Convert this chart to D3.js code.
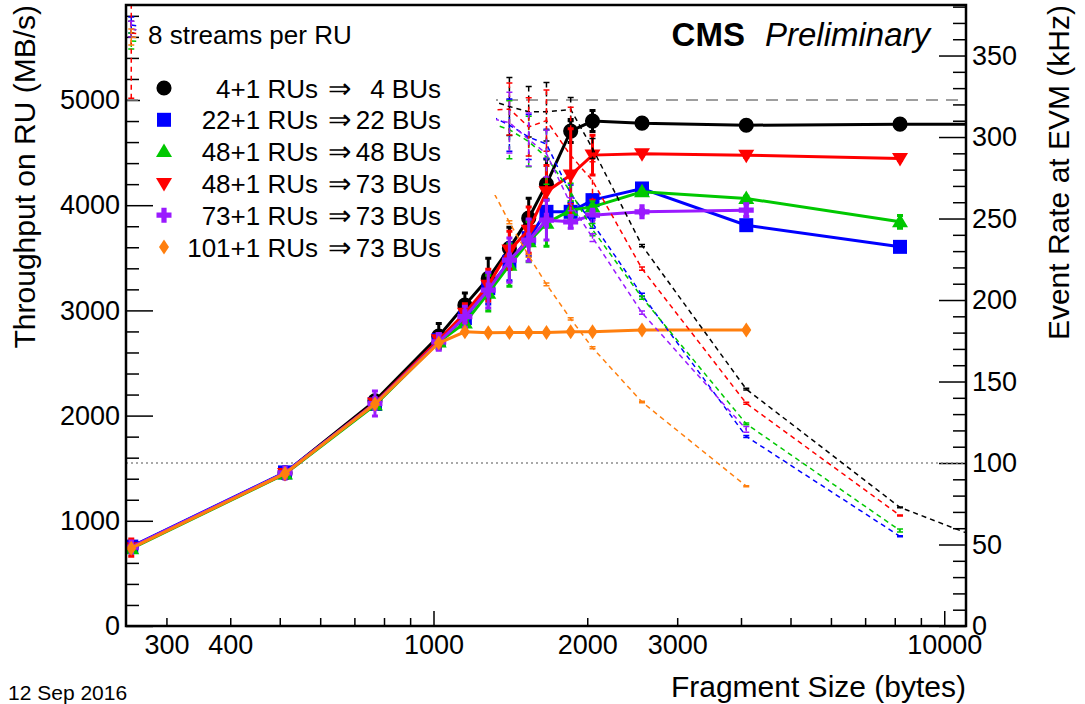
<!DOCTYPE html>
<html>
<head>
<meta charset="utf-8">
<script src="https://cdn.jsdelivr.net/npm/d3@7"></script>
<style>
  body { margin: 0; background: #fff; }
  text { font-family: "Liberation Sans", Arial, Helvetica, sans-serif; fill: #000; }
</style>
</head>
<body>
<svg id="chart" width="1085" height="704"></svg>
<script>
// Fragment sizes (bytes), shared by every series (shorter series use the first N)
const sizes = [256, 512, 768, 1024, 1152, 1280, 1408, 1536, 1664, 1856, 2048, 2560, 4096, 8192, 16384];

// Throughput on RU (MB/s) and its error
const blackThroughput    = [750, 1455, 2140, 2755, 3050, 3305, 3590, 3877, 4200, 4705, 4800, 4780, 4760, 4770, 4770];
const blackThroughputErr = [10, 10, 10, 120, 115, 190, 200, 190, 240, 110, 100, 15, 15, 15, 15];
const blueThroughput     = [755, 1460, 2110, 2718, 2927, 3212, 3462, 3687, 3937, 3937, 4048, 4159, 3810, 3604];
const blueThroughputErr  = [10, 10, 10, 60, 90, 150, 180, 170, 120, 80, 50, 20, 20, 20];
const greenThroughput    = [735, 1445, 2100, 2700, 2880, 3164, 3430, 3652, 3829, 3953, 3984, 4127, 4064, 3842];
const greenThroughputErr = [10, 10, 10, 60, 100, 170, 200, 190, 220, 80, 60, 20, 20, 60];
const redThroughput      = [745, 1450, 2120, 2720, 2974, 3240, 3573, 3763, 4128, 4286, 4476, 4490, 4475, 4444];
const redThroughputErr   = [82, 15, 15, 60, 90, 150, 180, 220, 250, 440, 190, 20, 20, 20];
const purpleThroughput   = [750, 1455, 2115, 2700, 2940, 3193, 3478, 3668, 3858, 3842, 3905, 3937, 3953];
const purpleThroughputErr= [10, 10, 120, 80, 100, 170, 210, 200, 190, 60, 40, 20, 60];
const orangeThroughput   = [740, 1450, 2110, 2690, 2797, 2787, 2790, 2790, 2790, 2797, 2797, 2813, 2813];
const orangeThroughputErr= [10, 10, 10, 10, 10, 10, 10, 10, 10, 10, 10, 10, 10];

// Event rate at EVM (kHz) and its error (dashed curves)
const blackRate     = [366.2, 355.2, 348.3, 336.3, 330.9, 322.8, 318.7, 315.5, 315.5, 316.9, 293.0, 233.4, 145.3, 72.8, 36.4];
const blackRateErr  = [4.9, 2.4, 1.6, 14.6, 12.5, 18.6, 17.8, 15.5, 18.0, 7.4, 6.1, 0.7, 0.5, 0.2, 0.1];
const blueRate      = [368.7, 356.4, 343.4, 331.8, 317.6, 313.7, 307.3, 300.0, 295.7, 265.2, 247.1, 203.1, 116.3, 55.0];
const blueRateErr   = [4.9, 2.4, 1.6, 7.3, 9.8, 14.6, 16.0, 13.8, 9.0, 5.4, 3.1, 1.0, 0.6, 0.3];
const greenRate     = [358.9, 352.8, 341.8, 329.6, 312.5, 309.0, 304.5, 297.2, 287.6, 266.2, 243.2, 201.5, 124.0, 58.6];
const greenRateErr  = [4.9, 2.4, 1.6, 7.3, 10.9, 16.6, 17.8, 15.5, 16.5, 5.4, 3.7, 1.0, 0.6, 0.9];
const redRate       = [363.8, 354.0, 345.1, 332.0, 322.7, 316.4, 317.2, 306.2, 310.1, 288.7, 273.2, 219.2, 136.6, 67.8];
const redRateErr    = [40.0, 3.7, 2.4, 7.3, 9.8, 14.6, 16.0, 17.9, 18.8, 29.6, 11.6, 1.0, 0.6, 0.3];
const purpleRate    = [366.2, 355.2, 344.2, 329.6, 319.0, 311.8, 308.8, 298.5, 289.8, 258.8, 238.3, 192.2, 120.6];
const purpleRateErr = [4.9, 2.4, 19.5, 9.8, 10.9, 16.6, 18.6, 16.3, 14.3, 4.0, 2.4, 1.0, 1.8];
const orangeRate    = [361.3, 354.0, 343.4, 328.4, 303.5, 272.2, 247.7, 227.1, 209.6, 188.4, 170.7, 137.4, 85.8];
const orangeRateErr = [4.9, 2.4, 1.6, 1.2, 1.1, 1.0, 0.9, 0.8, 0.8, 0.7, 0.6, 0.5, 0.3];

// Legend labels
const legendLeft  = ["4+1 RUs", "22+1 RUs", "48+1 RUs", "48+1 RUs", "73+1 RUs", "101+1 RUs"];
const legendRight = ["4 BUs", "22 BUs", "48 BUs", "73 BUs", "73 BUs", "73 BUs"];

// Axis ticks
const xMajorTicks = [1000, 10000];
const xMinorTicks = [300, 400, 500, 600, 700, 800, 900, 2000, 3000, 4000, 5000, 6000, 7000, 8000, 9000];
const xTickLabels = [300, 400, 1000, 2000, 3000, 10000];
const yLeftMajor  = [0, 1000, 2000, 3000, 4000, 5000];
const yRightMajor = [0, 50, 100, 150, 200, 250, 300, 350];

const refThroughput = 5000;  // gray dashed line
const refRate = 100;         // gray dotted line

// Series in drawing order (black first, orange on top)
const series = [
    { t: blackThroughput,  te: blackThroughputErr,  r: blackRate,  re: blackRateErr,  color: "#000000", marker: "circle" },
    { t: blueThroughput,   te: blueThroughputErr,   r: blueRate,   re: blueRateErr,   color: "#0000ff", marker: "square" },
    { t: greenThroughput,  te: greenThroughputErr,  r: greenRate,  re: greenRateErr,  color: "#00c800", marker: "triUp" },
    { t: redThroughput,    te: redThroughputErr,    r: redRate,    re: redRateErr,    color: "#ff0000", marker: "triDown" },
    { t: purpleThroughput, te: purpleThroughputErr, r: purpleRate, re: purpleRateErr, color: "#9a1aff", marker: "cross" },
    { t: orangeThroughput, te: orangeThroughputErr, r: orangeRate, re: orangeRateErr, color: "#ff7f0e", marker: "diamond" }
];

// Frame geometry
const L = 126, R = 966, T = 5, B = 626;

const svg = d3.select("#chart");

const x = d3.scaleLog().domain([250, 11030]).range([L, R]);
const yL = d3.scaleLinear().domain([0, 5903]).range([B, T]);
const yR = d3.scaleLinear().domain([0, 381]).range([B, T]);

svg.append("defs").append("clipPath").attr("id", "frame")
    .append("rect").attr("x", L).attr("y", T).attr("width", R - L).attr("height", B - T);

/*
    Marker path generator, centred on 0,0
*/
function markerPath(kind) {
    switch (kind) {
        case "circle": return d3.symbol(d3.symbolCircle, 180)();
        case "square": return "M-7,-7H7V7H-7Z";
        case "triUp": return "M0,-8L8,5.5L-8,5.5Z";
        case "triDown": return "M0,8L8,-5.5L-8,-5.5Z";
        case "cross": return "M-2.6,-7.5H2.6V-2.6H7.5V2.6H2.6V7.5H-2.6V2.6H-7.5V-2.6H-2.6Z";
        case "diamond": return "M0,-7.5L5,0L0,7.5L-5,0Z";
    }
}

// Axes
function styleAxis(g) {
    g.select(".domain").remove();
    g.selectAll(".tick line").attr("stroke", "#000").attr("stroke-width", 1.5);
    g.selectAll(".tick text").attr("font-size", 27).attr("fill", "#000");
}

svg.append("g").attr("transform", `translate(${L},0)`)
    .call(d3.axisLeft(yL).tickValues(d3.range(0, 5900, 200).filter(v => v % 1000)).tickSize(-13).tickFormat(""))
    .call(styleAxis);
svg.append("g").attr("transform", `translate(${L},0)`)
    .call(d3.axisLeft(yL).tickValues(yLeftMajor).tickSize(-27).tickPadding(6).tickFormat(d3.format("d")))
    .call(styleAxis);

svg.append("g").attr("transform", `translate(${R},0)`)
    .call(d3.axisRight(yR).tickValues(d3.range(0, 381, 10).filter(v => v % 50)).tickSize(-13).tickFormat(""))
    .call(styleAxis);
svg.append("g").attr("transform", `translate(${R},0)`)
    .call(d3.axisRight(yR).tickValues(yRightMajor).tickSize(-27).tickPadding(6).tickFormat(d3.format("d")))
    .call(styleAxis);

svg.append("g").attr("transform", `translate(0,${B})`)
    .call(d3.axisBottom(x).tickValues(xMinorTicks).tickSize(-8).tickFormat(""))
    .call(styleAxis);
svg.append("g").attr("transform", `translate(0,${B})`)
    .call(d3.axisBottom(x).tickValues(xMajorTicks).tickSize(-15).tickFormat(""))
    .call(styleAxis);
svg.append("g").attr("transform", `translate(0,${B})`)
    .call(d3.axisBottom(x).tickValues(xTickLabels).tickSize(0).tickPadding(9).tickFormat(d3.format("d")))
    .call(styleAxis);

// Reference lines
const plot = svg.append("g").attr("clip-path", "url(#frame)");
plot.append("line").attr("x1", L).attr("x2", R).attr("y1", yL(refThroughput)).attr("y2", yL(refThroughput))
    .attr("stroke", "#7f7f7f").attr("stroke-width", 1.5).attr("stroke-dasharray", "12,8");
plot.append("line").attr("x1", L).attr("x2", R).attr("y1", yR(refRate)).attr("y2", yR(refRate))
    .attr("stroke", "#8c8c8c").attr("stroke-width", 1.5).attr("stroke-dasharray", "2,3");

// Throughput (solid) curves
series.forEach(s => {
    const pts = s.t.map((v, i) => ({ x: sizes[i], y: v, e: s.te[i] }));
    const g = plot.append("g");
    g.append("path").datum(pts)
        .attr("fill", "none").attr("stroke", s.color).attr("stroke-width", 3)
        .attr("d", d3.line().x(d => x(d.x)).y(d => yL(d.y)));
    g.selectAll(".err").data(pts).join("path")
        .attr("stroke", s.color).attr("stroke-width", 3).attr("fill", "none")
        .attr("d", d => {
            const cx = x(d.x), y1 = yL(d.y + d.e), y2 = yL(d.y - d.e);
            return `M${cx},${y1}V${y2}M${cx - 3},${y1}H${cx + 3}M${cx - 3},${y2}H${cx + 3}`;
        });
    g.selectAll(".mk").data(pts).join("path")
        .attr("transform", d => `translate(${x(d.x)},${yL(d.y)})`)
        .attr("d", markerPath(s.marker)).attr("fill", s.color);
});

// Event rate (dashed) curves
series.forEach(s => {
    const pts = s.r.map((v, i) => ({ x: sizes[i], y: v, e: s.re[i] }));
    const g = plot.append("g");
    g.append("path").datum(pts)
        .attr("fill", "none").attr("stroke", s.color).attr("stroke-width", 1.5)
        .attr("stroke-dasharray", "5,4")
        .attr("d", d3.line().x(d => x(d.x)).y(d => yR(d.y)));
    g.selectAll(".err").data(pts).join("path")
        .attr("stroke", s.color).attr("stroke-width", 1.5).attr("fill", "none")
        .attr("stroke-dasharray", "5,4")
        .attr("d", d => {
            const cx = x(d.x);
            return `M${cx},${yR(d.y + d.e)}V${yR(d.y - d.e)}`;
        });
    g.selectAll(".cap").data(pts).join("path")
        .attr("stroke", s.color).attr("stroke-width", 1.5).attr("fill", "none")
        .attr("d", d => {
            const cx = x(d.x), y1 = yR(d.y + d.e), y2 = yR(d.y - d.e);
            return `M${cx - 3},${y1}H${cx + 3}M${cx - 3},${y2}H${cx + 3}`;
        });
});

// Frame
svg.append("rect").attr("x", L).attr("y", T).attr("width", R - L).attr("height", B - T)
    .attr("fill", "none").attr("stroke", "#000").attr("stroke-width", 2.5);

// Legend (white box hides the rate curves behind it)
svg.append("rect").attr("x", 140).attr("y", 7).attr("width", 356).attr("height", 188).attr("fill", "#fff");

svg.append("text").attr("x", 148).attr("y", 44).attr("font-size", 26).text("8 streams per RU");

const legendY = d3.scalePoint().domain(d3.range(series.length)).range([88, 247]);
series.forEach((s, i) => {
    const cy = legendY(i);
    svg.append("path").attr("transform", `translate(164,${cy})`)
        .attr("d", markerPath(s.marker)).attr("fill", s.color);
    svg.append("text").attr("x", 318).attr("y", cy + 9.5).attr("font-size", 26)
        .attr("text-anchor", "end").text(legendLeft[i]);
    svg.append("text").attr("x", 339).attr("y", cy + 9.5).attr("font-size", 28)
        .attr("text-anchor", "middle").text("\u21D2");
    svg.append("text").attr("x", 441).attr("y", cy + 9.5).attr("font-size", 26)
        .attr("text-anchor", "end").text(legendRight[i]);
});

// Title labels
svg.append("text").attr("x", 930).attr("y", 46).attr("font-size", 33).attr("text-anchor", "end")
    .html('<tspan font-weight="bold">CMS</tspan><tspan dx="20" font-style="italic">Preliminary</tspan>');

svg.append("text").attr("x", 966).attr("y", 697).attr("font-size", 30).attr("text-anchor", "end")
    .text("Fragment Size (bytes)");
svg.append("text").attr("transform", "translate(35,5) rotate(-90)").attr("font-size", 30)
    .attr("text-anchor", "end").text("Throughput on RU (MB/s)");
svg.append("text").attr("transform", "translate(1069,5) rotate(-90)").attr("font-size", 30)
    .attr("text-anchor", "end").text("Event Rate at EVM (kHz)");
svg.append("text").attr("x", 8).attr("y", 700).attr("font-size", 21).text("12 Sep 2016");
</script>
</body>
</html>
